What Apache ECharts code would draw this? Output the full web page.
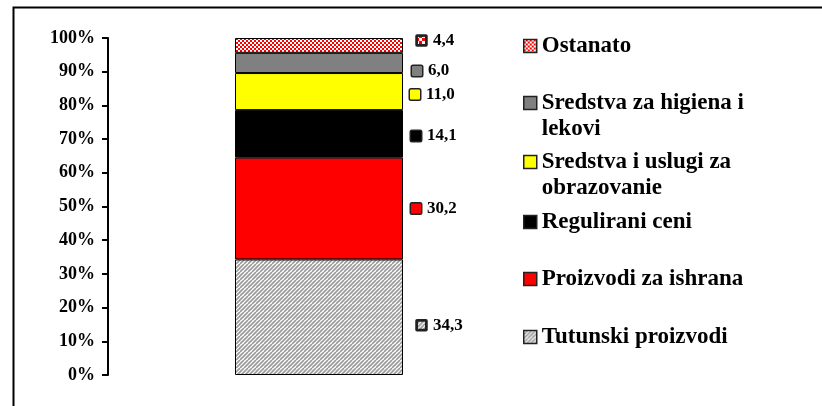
<!DOCTYPE html>
<html>
<head>
<meta charset="utf-8">
<script src="https://cdn.jsdelivr.net/npm/echarts@6/dist/echarts.min.js"></script>
<style>
  html, body { margin: 0; padding: 0; background: #fff; }
  #main { width: 822px; height: 406px; }
</style>
</head>
<body>
<div id="main"></div>
<script>
// data, bottom to top of the stacked column
var seriesNames = ['Tutunski proizvodi', 'Proizvodi za ishrana', 'Regulirani ceni',
  'Sredstva i uslugi za obrazovanie', 'Sredstva za higiena i lekovi', 'Ostanato'];
var seriesValues = [34.3, 30.2, 14.1, 11.0, 6.0, 4.4];
var yTicks = [0, 10, 20, 30, 40, 50, 60, 70, 80, 90, 100];

// legend text as it wraps in the picture (leading empty line keeps the icon on line one)
var legendText = {
  'Sredstva za higiena i lekovi': ' \nSredstva za higiena i\nlekovi',
  'Sredstva i uslugi za obrazovanie': ' \nSredstva i uslugi za\nobrazovanie'
};
var legendCenterY = [337, 279, 222, 162, 103, 46];   // icon centre of each legend row
var labelShift = [[5, 8], [0, 0], [0, 2], [-1, 3], [1, 8], [5, -5]]; // excel nudged labels a bit

var FONT = '"Liberation Serif", "DejaVu Serif", serif';

// fill patterns
function stripes(size) {
  var c = document.createElement('canvas');
  c.width = size; c.height = size;
  var g = c.getContext('2d');
  g.fillStyle = '#ffffff';
  g.fillRect(0, 0, size, size);
  g.strokeStyle = '#999999';
  g.lineWidth = 1.6;
  for (var k = -size; k <= size * 2; k += 4) {
    g.beginPath();
    g.moveTo(k - size, size);
    g.lineTo(k, 0);
    g.stroke();
  }
  return c;
}
function checker(size, cell) {
  var c = document.createElement('canvas');
  c.width = size; c.height = size;
  var g = c.getContext('2d');
  g.fillStyle = '#ff0000';
  g.fillRect(0, 0, size, size);
  g.fillStyle = '#ffffff';
  for (var y = 0; y < size; y += cell) {
    for (var x = 0; x < size; x += cell) {
      if (((x + y) / cell) % 2 === 0) g.fillRect(x, y, cell, cell);
    }
  }
  return c;
}
// small label marker: pattern with its own dark frame
function framed(c) {
  var g = c.getContext('2d');
  g.strokeStyle = '#222';
  g.lineWidth = 2;
  g.strokeRect(1, 1, c.width - 2, c.height - 2);
  return c;
}

var fills = [
  { image: stripes(8), repeat: 'repeat' },
  '#ff0000',
  '#000000',
  '#ffff00',
  '#808080',
  { image: checker(4, 2), repeat: 'repeat' }
];
var iconFills = [
  { image: framed(stripes(11)) },
  '#ff0000',
  '#000000',
  '#ffff00',
  '#808080',
  { image: framed(checker(11, 3)) }
];

var series = seriesNames.map(function (name, i) {
  var img = typeof iconFills[i] !== 'string';
  return {
    name: name,
    type: 'bar',
    stack: 'total',
    barWidth: 168,
    data: [seriesValues[i]],
    itemStyle: {
      color: fills[i],
      borderColor: '#000',
      borderWidth: 1
    },
    label: {
      show: true,
      position: 'right',
      distance: 8,
      offset: labelShift[i],
      formatter: function (p) {
        return '{ic|}{v|' + p.value.toFixed(1).replace('.', ',') + '}';
      },
      rich: {
        ic: {
          width: img ? 11 : 10,
          height: img ? 11 : 10,
          backgroundColor: iconFills[i],
          borderColor: '#222',
          borderWidth: 1.5,
          borderRadius: 1
        },
        v: {
          fontFamily: FONT,
          fontWeight: 'bold',
          fontSize: 17,
          color: '#000',
          padding: [0, 0, 0, 6]
        }
      }
    }
  };
});

// one legend per row so rows sit where excel put them
var legends = seriesNames.map(function (name, i) {
  var twoLines = !!legendText[name];
  return {
    data: [{ name: name, icon: 'rect' }],
    left: 523,
    top: twoLines ? legendCenterY[i] - 39 : legendCenterY[i] - 13,
    padding: 0,
    itemWidth: 13,
    itemHeight: 13,
    itemGap: 0,
    selectedMode: false,
    formatter: function (n) { return legendText[n] || n; },
    itemStyle: { borderColor: '#222', borderWidth: 1.5 },
    textStyle: {
      fontFamily: FONT,
      fontWeight: 'bold',
      fontSize: 23,
      lineHeight: 26,
      color: '#000'
    }
  };
});

var chart = echarts.init(document.getElementById('main'));
chart.setOption({
  animation: false,
  backgroundColor: '#fff',
  graphic: [{
    type: 'rect',
    left: 11,
    top: 5,
    shape: { width: 900, height: 500 },
    style: { fill: 'none', stroke: '#000', lineWidth: 2 }
  }],
  legend: legends,
  grid: {
    left: 108,
    top: 38,
    width: 422,
    height: 337,
    containLabel: false
  },
  xAxis: {
    type: 'category',
    data: [''],
    show: false
  },
  yAxis: {
    type: 'value',
    min: yTicks[0],
    max: yTicks[yTicks.length - 1],
    interval: 10,
    axisLine: { show: true, lineStyle: { color: '#000', width: 2 } },
    axisTick: { show: true, length: 6, lineStyle: { color: '#000', width: 2 } },
    splitLine: { show: false },
    axisLabel: {
      margin: 13,
      formatter: '{value}%',
      fontFamily: FONT,
      fontWeight: 'bold',
      fontSize: 18,
      color: '#000'
    }
  },
  series: series
});
</script>
</body>
</html>
